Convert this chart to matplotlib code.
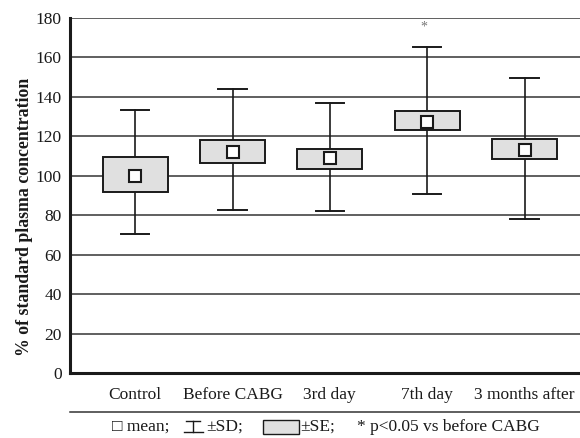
import numpy as np
import matplotlib
matplotlib.use("Agg")
import matplotlib.pyplot as plt
from matplotlib.patches import Rectangle
from matplotlib.lines import Line2D

# Plasma concentration (% of standard) per time point
groups = ["Control", "Before CABG", "3rd day", "7th day", "3 months after"]
mean = [100.0, 112.0, 109.0, 127.5, 113.0]
se_low = [92.0, 106.5, 103.5, 123.0, 108.5]
se_high = [109.5, 118.0, 113.5, 133.0, 118.5]
sd_low = [70.5, 82.5, 82.0, 91.0, 78.0]
sd_high = [133.5, 144.0, 137.0, 165.5, 149.5]
significant = [False, False, False, True, False]

plt.rcParams["font.family"] = ["Liberation Serif", "DejaVu Serif"]

BOX_FACE = "#e0e0e0"
INK = "#1a1a1a"

fig = plt.figure(figsize=(5.8, 4.38), dpi=100)
ax = fig.add_axes([0.1207, 0.1484, 0.8793, 0.8105])

x = np.arange(1, len(groups) + 1)
box_w = 0.67
cap_w = 0.29

for xi, m, lo, hi, sl, sh, sig in zip(x, mean, se_low, se_high,
                                       sd_low, sd_high, significant):
    # SD whisker with caps
    ax.plot([xi, xi], [sl, sh], color=INK, lw=1.2, zorder=2)
    ax.plot([xi - cap_w / 2, xi + cap_w / 2], [sh, sh], color=INK, lw=1.4, zorder=2)
    ax.plot([xi - cap_w / 2, xi + cap_w / 2], [sl, sl], color=INK, lw=1.4, zorder=2)
    # SE box
    ax.add_patch(Rectangle((xi - box_w / 2, lo), box_w, hi - lo,
                           facecolor=BOX_FACE, edgecolor=INK, lw=1.4, zorder=3))
    # mean marker
    ax.plot(xi, m, marker="s", ms=9, mfc="white", mec=INK, mew=1.5, zorder=4)
    if sig:
        ax.text(xi - 0.03, sh + 10, "*", ha="center", va="center",
                fontsize=10, color="#777777")

ax.set_xlim(0.33, 5.57)
ax.set_ylim(0, 180)
ax.set_yticks(np.arange(0, 181, 20))
ax.set_xticks(x)
ax.set_xticklabels(groups, fontsize=12.5, color=INK)
ax.tick_params(axis="both", length=0, labelsize=12.5, colors=INK)
ax.tick_params(axis="x", pad=10)
ax.tick_params(axis="y", pad=6)
ax.yaxis.grid(True, color="#444444", lw=1.2)
ax.set_axisbelow(True)

for side in ["top", "right"]:
    ax.spines[side].set_visible(False)
ax.spines["left"].set_linewidth(2.2)
ax.spines["bottom"].set_linewidth(2.2)
ax.spines["left"].set_color(INK)
ax.spines["bottom"].set_color(INK)

ax.set_ylabel("% of standard plasma concentration", fontsize=12.8,
              fontweight="bold", color=INK)
ax.yaxis.set_label_coords(-0.072, 0.44)

# separator line and key below the axis
W, H = 580.0, 438.0
fig.add_artist(Line2D([70 / W, 1.0], [1 - 412 / H, 1 - 412 / H],
                      color="#333333", lw=1.1))

ky = 1 - 427 / H
fig.text(112 / W, ky, "\u25a1 mean;", fontsize=12.5, va="center", color=INK)
# SD symbol
top_y = 1 - 421 / H
bot_y = 1 - 432 / H
fig.add_artist(Line2D([186 / W, 200 / W], [top_y, top_y], color=INK, lw=1.0))
fig.add_artist(Line2D([193 / W, 193 / W], [top_y, bot_y], color=INK, lw=1.0))
fig.add_artist(Line2D([184 / W, 203 / W], [bot_y, bot_y], color=INK, lw=1.0))
fig.text(206 / W, ky, "\u00b1SD;", fontsize=12.5, va="center", color=INK)
# SE symbol
fig.add_artist(Rectangle((263 / W, 1 - 434 / H), 36 / W, 14 / H,
                         facecolor=BOX_FACE, edgecolor=INK, lw=1.0,
                         transform=fig.transFigure))
fig.text(300 / W, ky, "\u00b1SE;", fontsize=12.5, va="center", color=INK)
fig.text(357 / W, ky, "* p<0.05 vs before CABG", fontsize=12.5,
         va="center", color=INK)

fig.savefig("out.png", dpi=100)
